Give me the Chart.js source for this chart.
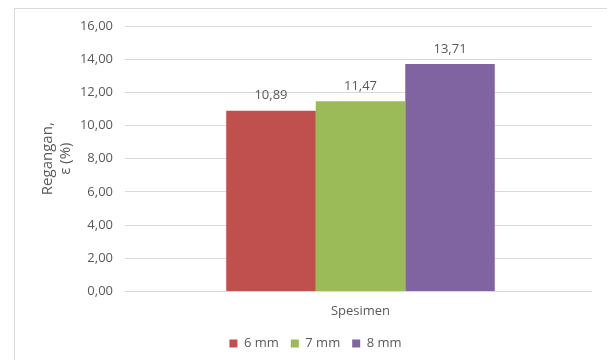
<!DOCTYPE html>
<html>
<head>
<meta charset="utf-8">
<script src="https://cdn.jsdelivr.net/npm/chart.js@4/dist/chart.umd.min.js"></script>
<style>
  html, body { margin: 0; padding: 0; background: #fff; }
  #wrap { position: relative; width: 607px; height: 360px; }
  #frame {
    position: absolute; left: 14px; top: 8px; right: 0; bottom: 0;
    border-left: 1px solid #d9d9d9; border-top: 1px solid #d9d9d9;
    pointer-events: none;
  }
  canvas { display: block; }
</style>
</head>
<body>
<div id="wrap">
  <canvas id="c" width="607" height="360"></canvas>
  <div id="frame"></div>
</div>
<script>
const categories = ['Spesimen'];
const seriesNames = ['6 mm', '7 mm', '8 mm'];
const seriesValues = [[10.89], [11.47], [13.71]];
const seriesColors = ['#C0504D', '#9BBB59', '#8064A2'];
const yTicks = [0, 2, 4, 6, 8, 10, 12, 14, 16];

const FONT = "'Open Sans', 'Liberation Sans', sans-serif";
const TEXT = '#595959';
const GRID = '#d9d9d9';

const fmt = v => v.toFixed(2).replace('.', ',');

// Value labels above each bar
const valueLabels = {
  id: 'valueLabels',
  afterDatasetsDraw(chart) {
    const ctx = chart.ctx;
    ctx.save();
    ctx.font = '13px ' + FONT;
    ctx.fillStyle = TEXT;
    ctx.textAlign = 'center';
    ctx.textBaseline = 'middle';
    chart.data.datasets.forEach((ds, i) => {
      chart.getDatasetMeta(i).data.forEach((bar, j) => {
        ctx.fillText(fmt(ds.data[j]), bar.x, bar.y - 15);
      });
    });
    ctx.restore();
  }
};

new Chart(document.getElementById('c'), {
  type: 'bar',
  data: {
    labels: categories,
    datasets: seriesNames.map((name, i) => ({
      label: name,
      data: seriesValues[i],
      backgroundColor: seriesColors[i],
      borderWidth: 0,
      categoryPercentage: 0.58,
      barPercentage: 1.0
    }))
  },
  options: {
    responsive: false,
    animation: false,
    devicePixelRatio: 1,
    layout: { padding: { left: 39, right: 15, top: 26, bottom: 0 } },
    plugins: {
      tooltip: { enabled: false },
      legend: {
        position: 'bottom',
        labels: {
          boxWidth: 8,
          boxHeight: 8,
          padding: 12,
          color: TEXT,
          font: { family: FONT, size: 13 }
        }
      }
    },
    scales: {
      x: {
        afterFit(scale) { scale.height = scale.height - 6; },
        grid: { display: false, drawTicks: false },
        border: { display: false },
        ticks: { color: TEXT, font: { family: FONT, size: 13 }, padding: 12 }
      },
      y: {
        min: 0,
        max: 16,
        afterBuildTicks(scale) { scale.ticks = yTicks.map(v => ({ value: v })); },
        afterFit(scale) { scale.width = 90; },
        grid: { color: GRID, lineWidth: 1, drawTicks: true, tickLength: 4, tickColor: GRID },
        border: { display: false },
        ticks: {
          color: TEXT,
          font: { family: FONT, size: 13 },
          padding: 12,
          callback: v => fmt(v)
        },
        title: {
          display: true,
          text: ['Regangan,', 'ε (%)'],
          color: TEXT,
          font: { family: FONT, size: 15, lineHeight: 1.2 },
          padding: { top: 0, bottom: 4 }
        }
      }
    }
  },
  plugins: [valueLabels]
});
</script>
</body>
</html>
